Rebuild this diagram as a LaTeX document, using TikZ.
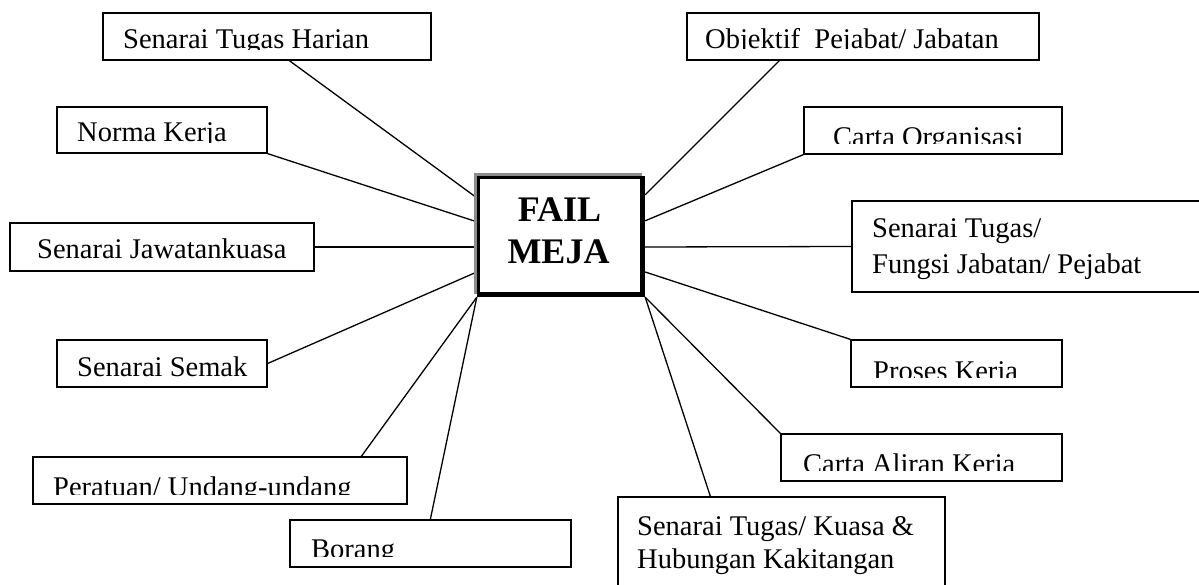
\documentclass[tikz,border=0pt]{standalone}
\usepackage{fontspec}
\setmainfont{Liberation Serif}
\usetikzlibrary{fit}
\tikzset{
  box/.style={draw=black, line width=1.3pt, inner sep=0pt, fill=white},
  lbl/.style={inner sep=0pt, font=\fontsize{28.5}{34}\selectfont},
  link/.style={line width=1.3pt, draw=black},
  bigtxt/.style={inner sep=0pt, font=\fontsize{36}{42}\selectfont\bfseries}
}
% name, x1, y1, x2, y2, text x, text baseline, clip bottom, text
\newcommand\labelbox[9]{%
  \node[box, fit={(#2,#3) (#4,#5)}] (#1) {};
  \begin{scope}
    \clip (#2,#3) rectangle (#4,#8);
    \node[lbl, anchor=base west] (#1-text) at (#6,#7) {#9};
  \end{scope}}
\begin{document}
\begin{tikzpicture}[x=1pt, y=-1pt]
\useasboundingbox (0,0) rectangle (1199,585);
\fill[white] (0,0) rectangle (1199,585);
\clip (0,0) rectangle (1199,585);

% centre node (frame drawn later)
\node[fit={(477,175) (645,297)}, inner sep=0pt] (fail) {};

% left side boxes
\labelbox{harian}{103}{13}{431}{60}{123}{48.5}{50}{Senarai Tugas Harian}
\labelbox{norma}{57}{107}{267}{153}{77}{142}{142.6}{Norma Kerja}
\labelbox{jawatan}{10}{223}{314}{271}{37}{259}{271}{Senarai Jawatankuasa}
\labelbox{semak}{57}{340}{267}{387}{77}{376}{387}{Senarai Semak}
\labelbox{peratuan}{33}{457}{407}{504}{53}{496}{494}{Peratuan/ Undang-undang}
\labelbox{borang}{290}{520}{571}{567}{311}{558}{556}{Borang}

% right side boxes
\labelbox{objektif}{687}{13}{1039}{60}{705}{48.5}{49}{Objektif\ \ Pejabat/ Jabatan}
\labelbox{organisasi}{804}{107}{1062}{154}{833}{146.5}{143.5}{Carta Organisasi}
\labelbox{proses}{851}{340}{1062}{387}{873}{380}{377.5}{Proses Kerja}
\labelbox{aliran}{781}{434}{1062}{481}{803}{473}{470.5}{Carta Aliran Kerja}

\node[box, fit={(852,201) (1210,292)}] (fungsi) {};
\node[lbl, anchor=base west] (fungsi-text1) at (872,238) {Senarai Tugas/};
\node[lbl, anchor=base west] (fungsi-text2) at (872,273) {Fungsi Jabatan/ Pejabat};

\node[box, fit={(618,497) (945,600)}] (kuasa) {};
\node[lbl, anchor=base west] (kuasa-text1) at (637,535) {Senarai Tugas/ Kuasa \&};
\node[lbl, anchor=base west] (kuasa-text2) at (637,568) {Hubungan Kakitangan};

% connectors
\draw[link] ([xshift=187pt]harian.south west) -- ([yshift=-23pt]fail.north west);
\draw[link] (norma.south east) -- ([yshift=-47pt]fail.north west);
\draw[link] (jawatan.east) -- ([yshift=-11pt]fail.west);
\draw[link] (semak.east) -- ([yshift=-36pt]fail.west);
\draw[link] ([xshift=329pt]peratuan.north west) -- (fail.south west);
\draw[link] ([xshift=141pt]borang.north west) -- (fail.south west);
\draw[link] ([xshift=93pt]objektif.south west) -- ([yshift=-20pt]fail.north east);
\draw[link] (organisasi.south west) -- ([yshift=-46pt]fail.north east);
\draw[link] (fungsi.west) -- ([yshift=-11pt]fail.east);
\draw[link] (proses.north west) -- ([yshift=-36pt]fail.east);
\draw[link] (aliran.north west) -- (fail.south east);
\draw[link] ([xshift=93pt]kuasa.north west) -- (fail.south east);

% centre frame
\fill[black!45] (474,173) rectangle (642,294);
\fill[black] (477,176) rectangle (645,297);
\fill[white] (480,179) rectangle (640,292);
\node[bigtxt, anchor=base] (fail-text1) at (559.5,222) {FAIL};
\node[bigtxt, anchor=base] (fail-text2) at (558.5,264) {MEJA};
\end{tikzpicture}
\end{document}
